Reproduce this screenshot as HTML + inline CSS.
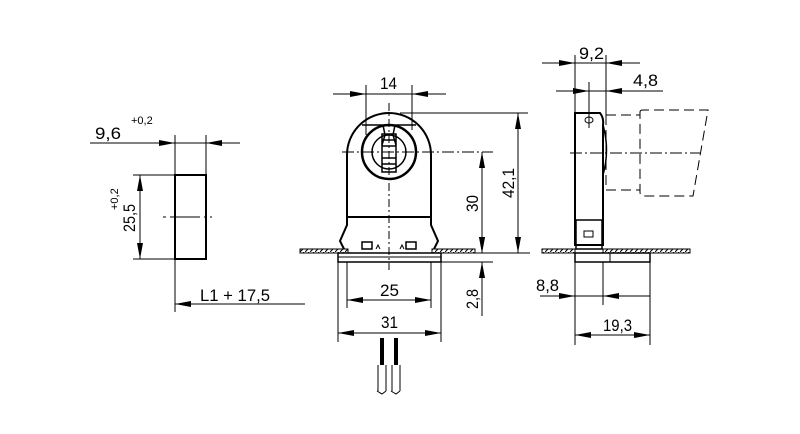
<!DOCTYPE html>
<html><head><meta charset="utf-8"><style>
html,body{margin:0;padding:0;background:#fff;width:800px;height:434px;overflow:hidden}
svg{display:block}
text{font-family:"Liberation Sans",sans-serif;fill:#000}
</style></head><body>
<svg width="800" height="434" viewBox="0 0 800 434" xmlns="http://www.w3.org/2000/svg">
<defs>
<marker id="a" viewBox="0 0 16 6" refX="16" refY="3" markerWidth="16" markerHeight="6" markerUnits="userSpaceOnUse" orient="auto"><path d="M0,0L16,3L0,6z" fill="#000"/></marker>
<pattern id="h" width="5" height="4" patternUnits="userSpaceOnUse"><rect width="5" height="4" fill="#fff"/><path d="M0,4L4,0" stroke="#000" stroke-width="1"/></pattern>
</defs>
<g stroke="#000" fill="none" stroke-width="1">
<!-- LEFT VIEW -->
<rect x="175" y="175" width="31" height="84" stroke-width="2"/>
<line x1="175" y1="135" x2="175" y2="312"/>
<line x1="206" y1="135" x2="206" y2="175"/>
<line x1="90" y1="143" x2="240" y2="143"/>
<line x1="140" y1="143" x2="175" y2="143" marker-end="url(#a)"/>
<line x1="240" y1="143" x2="206" y2="143" marker-end="url(#a)"/>
<line x1="133" y1="175" x2="175" y2="175"/>
<line x1="133" y1="259" x2="175" y2="259"/>
<line x1="140" y1="217" x2="140" y2="175" marker-end="url(#a)"/>
<line x1="140" y1="217" x2="140" y2="259" marker-end="url(#a)"/>
<line x1="163" y1="217" x2="212" y2="217" stroke-dasharray="3,4,30,4,3"/>
<line x1="305" y1="304" x2="175" y2="304" marker-end="url(#a)"/>

<!-- MAIN VIEW -->
<path d="M347,217 L347,155 A42,42 0 0 1 431,155 L431,217 Z" stroke-width="2"/>
<path d="M347,217 L347,225 L340,241 L344,249 M431,217 L431,225 L438,241 L434,249" stroke-width="2"/>
<circle cx="389" cy="152" r="27" stroke-width="2.5"/>
<circle cx="389" cy="152" r="17" stroke-width="1.5"/>
<path d="M362,125 L383,125 L385,135 L382,145 M416,125 L395,125 L393,135 L396,145" stroke-width="1.5"/>
<rect x="382" y="134" width="14" height="38" stroke-width="1.5"/>
<path d="M382,140h14M382,146h14M382,158h14M382,164h14" stroke-width="1.5"/>
<rect x="362" y="242" width="10" height="7" stroke-width="1.5"/>
<rect x="406" y="242" width="10" height="7" stroke-width="1.5"/>
<path d="M376,249l2,-4l2,4M400,249l2,-4l2,4"/>
<rect x="300" y="249" width="48" height="4" fill="url(#h)"/>
<rect x="432" y="249" width="43" height="4" fill="url(#h)"/>
<rect x="338" y="253" width="103" height="9" stroke-width="1.5"/>
<line x1="338" y1="257" x2="441" y2="257"/>
<line x1="389" y1="103" x2="389" y2="270" stroke-dasharray="8,3,2,3"/>
<line x1="342" y1="152" x2="493" y2="152" stroke-dasharray="12,3,2,3"/>
<!-- 14 -->
<line x1="366" y1="85" x2="366" y2="135"/>
<line x1="412" y1="85" x2="412" y2="130"/>
<line x1="333" y1="94" x2="366" y2="94" marker-end="url(#a)"/>
<line x1="446" y1="94" x2="412" y2="94" marker-end="url(#a)"/>
<line x1="366" y1="94" x2="412" y2="94"/>
<!-- 42.1 -->
<line x1="400" y1="113" x2="528" y2="113"/>
<line x1="441" y1="253" x2="530" y2="253"/>
<line x1="518" y1="183" x2="518" y2="113" marker-end="url(#a)"/>
<line x1="518" y1="183" x2="518" y2="253" marker-end="url(#a)"/>
<!-- 30 -->
<line x1="482" y1="203" x2="482" y2="152" marker-end="url(#a)"/>
<line x1="482" y1="203" x2="482" y2="253" marker-end="url(#a)"/>
<!-- 2.8 -->
<line x1="441" y1="262" x2="493" y2="262"/>
<line x1="482" y1="232" x2="482" y2="253" marker-end="url(#a)"/>
<line x1="482" y1="316" x2="482" y2="262" marker-end="url(#a)"/>
<!-- 25 / 31 -->
<line x1="347" y1="262" x2="347" y2="308"/>
<line x1="431" y1="262" x2="431" y2="308"/>
<line x1="338" y1="262" x2="338" y2="342"/>
<line x1="441" y1="262" x2="441" y2="342"/>
<line x1="389" y1="300" x2="347" y2="300" marker-end="url(#a)"/>
<line x1="389" y1="300" x2="431" y2="300" marker-end="url(#a)"/>
<line x1="389" y1="333" x2="338" y2="333" marker-end="url(#a)"/>
<line x1="389" y1="333" x2="441" y2="333" marker-end="url(#a)"/>
<!-- wires -->
<line x1="382" y1="338" x2="382" y2="365" stroke-width="4"/>
<line x1="396" y1="338" x2="396" y2="365" stroke-width="4"/>
<path d="M378,365v26M386,365v26M392,365v26M400,365v26M377,391l5,3l4,-3M391,391l5,3l4,-3"/>

<!-- SIDE VIEW -->
<path d="M575,113 L600,113 Q604,118 603,125 L603,245 L575,245 Z" stroke-width="2"/>
<path d="M603,125 Q610,150 603,175" stroke-width="1.5"/>
<ellipse cx="589" cy="120" rx="4" ry="3"/>
<rect x="576" y="220" width="26" height="29" stroke-width="1.5"/>
<rect x="584" y="231" width="9" height="6"/>
<rect x="542" y="249" width="33" height="4" fill="url(#h)"/>
<rect x="603" y="249" width="87" height="4" fill="url(#h)"/>
<rect x="575" y="253" width="75" height="9" stroke-width="1.5"/>
<line x1="610" y1="253" x2="610" y2="262"/>
<path d="M606,115 H640 M606,115 V190 H640 M640,112 Q640,110 643,110 H708 L693,196 H643 Q640,196 640,192 V112" stroke-dasharray="10,5"/>
<line x1="570" y1="153" x2="700" y2="153" stroke-dasharray="12,3,2,3"/>
<line x1="589" y1="82" x2="589" y2="128"/>
<line x1="575" y1="55" x2="575" y2="113"/>
<line x1="606" y1="55" x2="606" y2="115"/>
<line x1="542" y1="63" x2="575" y2="63" marker-end="url(#a)"/>
<line x1="640" y1="63" x2="606" y2="63" marker-end="url(#a)"/>
<line x1="575" y1="63" x2="606" y2="63"/>
<line x1="556" y1="91" x2="589" y2="91" marker-end="url(#a)"/>
<line x1="663" y1="91" x2="606" y2="91" marker-end="url(#a)"/>
<line x1="589" y1="91" x2="606" y2="91"/>
<line x1="575" y1="262" x2="575" y2="345"/>
<line x1="650" y1="262" x2="650" y2="345"/>
<line x1="603" y1="262" x2="603" y2="305"/>
<line x1="540" y1="296" x2="575" y2="296" marker-end="url(#a)"/>
<line x1="650" y1="296" x2="603" y2="296" marker-end="url(#a)"/>
<line x1="575" y1="296" x2="603" y2="296"/>
<line x1="612" y1="335" x2="575" y2="335" marker-end="url(#a)"/>
<line x1="612" y1="335" x2="650" y2="335" marker-end="url(#a)"/>
</g>
<g font-size="17">
<text x="95" y="139" textLength="26" lengthAdjust="spacingAndGlyphs">9,6</text>
<text x="131" y="124" font-size="11">+0,2</text>
<text transform="translate(135,232) rotate(-90)" textLength="28" lengthAdjust="spacingAndGlyphs">25,5</text>
<text transform="translate(118,210) rotate(-90)" font-size="11">+0,2</text>
<text x="200" y="301" textLength="70" lengthAdjust="spacingAndGlyphs">L1 + 17,5</text>
<text x="380" y="89" textLength="17" lengthAdjust="spacingAndGlyphs">14</text>
<text transform="translate(514,198) rotate(-90)" textLength="30" lengthAdjust="spacingAndGlyphs">42,1</text>
<text transform="translate(478,212) rotate(-90)" textLength="17" lengthAdjust="spacingAndGlyphs">30</text>
<text transform="translate(478,309) rotate(-90)" textLength="20" lengthAdjust="spacingAndGlyphs">2,8</text>
<text x="380" y="296" textLength="19" lengthAdjust="spacingAndGlyphs">25</text>
<text x="381" y="328" textLength="17" lengthAdjust="spacingAndGlyphs">31</text>
<text x="579" y="59" textLength="25" lengthAdjust="spacingAndGlyphs">9,2</text>
<text x="633" y="86" textLength="25" lengthAdjust="spacingAndGlyphs">4,8</text>
<text x="536" y="291" textLength="23" lengthAdjust="spacingAndGlyphs">8,8</text>
<text x="603" y="331" textLength="29" lengthAdjust="spacingAndGlyphs">19,3</text>
</g>
</svg>
</body></html>
